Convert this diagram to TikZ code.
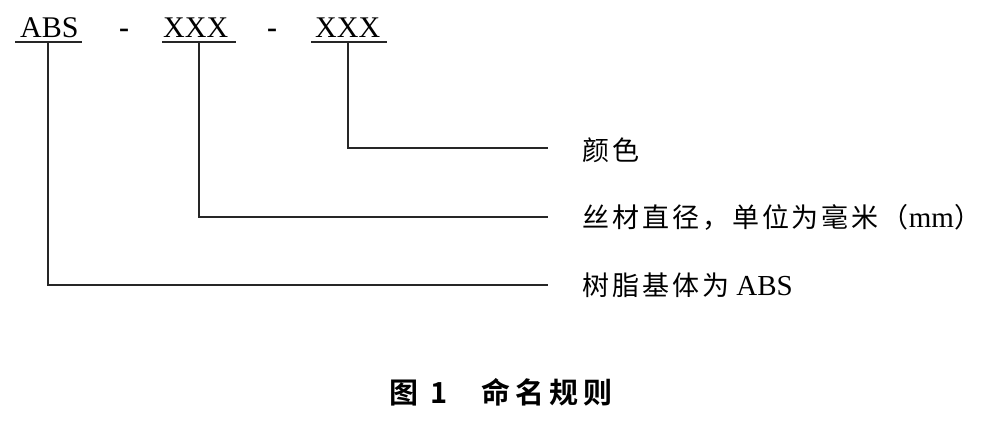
\documentclass[tikz,border=0pt]{standalone}
\usepackage{fontspec}
\setmainfont{Liberation Serif}
\newfontfamily\cjk{Noto Sans CJK SC}[BoldFont=* Bold]
\newfontfamily\cjkls{Noto Sans CJK SC}[LetterSpace=11]
\newcommand\zhtxt[1]{{\cjkls\fontsize{27}{27}\selectfont #1}}
\begin{document}
\begin{tikzpicture}[x=1pt,y=-1pt,
  codetxt/.style={inner sep=0pt, anchor=base west, font=\fontsize{30}{30}\selectfont},
  labtxt/.style={inner sep=0pt, anchor=base west, font=\fontsize{29}{29}\selectfont},
  captxt/.style={inner sep=0pt, font=\fontsize{29}{29}\selectfont\cjk\bfseries},
  rulel/.style={line width=1.5pt, draw=black!85}]
\useasboundingbox (0,0) rectangle (981,421);
% code line
\node[codetxt] (abs) at (20,37) {ABS};
\node[codetxt] (d1) at (119,37) {\textbf{-}};
\node[codetxt] (x1) at (163,37) {XXX};
\node[codetxt] (d2) at (267,37) {\textbf{-}};
\node[codetxt] (x2) at (315,37) {XXX};
% underlines
\coordinate (ua) at (15,42);  \coordinate (ub) at (82,42);
\coordinate (va) at (162,42); \coordinate (vb) at (236,42);
\coordinate (wa) at (311,42); \coordinate (wb) at (387,42);
\draw[rulel] (ua) -- (ub);
\draw[rulel] (va) -- (vb);
\draw[rulel] (wa) -- (wb);
% connector start points
\coordinate (s1) at (48,42);
\coordinate (s2) at (199,42);
\coordinate (s3) at (348,42);
% connector end points
\coordinate (e1) at (548,148);
\coordinate (e2) at (548,217);
\coordinate (e3) at (548,285);
% labels
\node[labtxt] (l1) at (582,160) {\zhtxt{颜色}};
\node[labtxt] (l2) at (582,227) {\zhtxt{丝材直径，单位为毫米（}mm\zhtxt{）}};
\node[labtxt] (l3) at (582,295) {\zhtxt{树脂基体为} ABS};
% connectors
\draw[rulel] (s3) |- (e1);
\draw[rulel] (s2) |- (e2);
\draw[rulel] (s1) |- (e3);
% caption
\node[captxt, anchor=base west] (c1) at (389,403) {图};
\node[captxt, anchor=base] (c2) at (439,403) {1};
\node[captxt, anchor=base west] (c3) at (481,403) {命\hspace{5pt}名\hspace{5pt}规\hspace{5pt}则};
\end{tikzpicture}
\end{document}
